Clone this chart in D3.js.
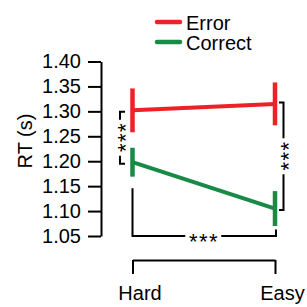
<!DOCTYPE html>
<html>
<head>
  <meta charset="utf-8">
  <style>
    html, body {
      margin: 0;
      padding: 0;
      background: #fff;
      width: 307px;
      height: 307px;
      overflow: hidden;
      font-family: "Liberation Sans", Arial, sans-serif;
    }
    svg { display: block; }
    .axis path, .axis line { stroke: #000; stroke-width: 2px; }
    .axis text { font-size: 20px; fill: #000; font-family: "Liberation Sans", Arial, sans-serif; }
  </style>
</head>
<body>
  <svg width="307" height="307"></svg>

  <script src="https://d3js.org/d3.v7.min.js"></script>
  <script>
    // data
    const conditions = ["Hard", "Easy"];
    const seriesNames = ["Error", "Correct"];
    const seriesColors = ["#ec2227", "#178a44"];
    const errorMeans = [1.302, 1.315];
    const errorSE = [0.044, 0.043];
    const correctMeans = [1.198, 1.105];
    const correctSE = [0.029, 0.035];
    const yTicks = [1.05, 1.10, 1.15, 1.20, 1.25, 1.30, 1.35, 1.40];

    // significance: within Hard, within Easy, and Correct Hard vs Easy
    const sigLabels = ["***", "***", "***"];
    const bottomBracketEnds = [1.146, 1.063]; // where the Hard/Easy arms stop (data units)

    const svg = d3.select("svg");

    const x = d3.scalePoint().domain(conditions).range([132.5, 275]);
    const y = d3.scaleLinear().domain([1.05, 1.40]).range([236, 61.5]);

    const series = [
      { name: seriesNames[0], color: seriesColors[0], means: errorMeans, se: errorSE },
      { name: seriesNames[1], color: seriesColors[1], means: correctMeans, se: correctSE }
    ];

    // y axis
    svg.append("g")
      .attr("class", "axis")
      .attr("transform", "translate(101,0)")
      .call(d3.axisLeft(y).tickValues(yTicks).tickSize(13).tickSizeOuter(0).tickPadding(7).tickFormat(d3.format(".2f")));

    svg.append("text")
      .attr("transform", "translate(32,141) rotate(-90)")
      .attr("text-anchor", "middle")
      .attr("font-size", 20)
      .text("RT (s)");

    // x axis (separate bracket below)
    const xAxis = svg.append("g")
      .attr("class", "axis")
      .attr("transform", "translate(0,260)")
      .call(d3.axisBottom(x).tickSize(14).tickSizeOuter(0).tickPadding(0));
    xAxis.selectAll("text")
      .attr("dy", null)
      .attr("y", 40)
      .attr("dx", 7);

    // lines
    const line = d3.line()
      .x((d, i) => x(conditions[i]))
      .y(d => y(d));

    series.forEach(s => {
      svg.append("path")
        .datum(s.means)
        .attr("d", line)
        .attr("fill", "none")
        .attr("stroke", s.color)
        .attr("stroke-width", 4);

      svg.append("g")
        .selectAll("line")
        .data(s.means)
        .join("line")
        .attr("x1", (d, i) => x(conditions[i]))
        .attr("x2", (d, i) => x(conditions[i]))
        .attr("y1", (d, i) => y(d + s.se[i]))
        .attr("y2", (d, i) => y(d - s.se[i]))
        .attr("stroke", s.color)
        .attr("stroke-width", 4.5);
    });

    // legend
    const legend = svg.append("g").attr("transform", "translate(157,22)");
    series.forEach((s, i) => {
      legend.append("line")
        .attr("x1", 0).attr("x2", 23)
        .attr("y1", i * 20).attr("y2", i * 20)
        .attr("stroke", s.color)
        .attr("stroke-width", 4.5)
        .attr("stroke-linecap", "round");
      legend.append("text")
        .attr("x", 29)
        .attr("y", i * 20 + 7.5)
        .attr("font-size", 20)
        .text(s.name);
    });

    // significance brackets
    const sig = svg.append("g")
      .attr("fill", "none")
      .attr("stroke", "#000")
      .attr("stroke-width", 2);

    const gap = 18;
    function stars(cx, cy, label, vertical) {
      svg.append("text")
        .attr("transform", `translate(${cx},${cy})` + (vertical ? " rotate(-90)" : ""))
        .attr("x", 0.8)
        .attr("y", 12.5)
        .attr("text-anchor", "middle")
        .attr("font-size", 22)
        .attr("letter-spacing", 1.5)
        .text(label);
    }

    // vertical brackets, one per condition
    const vBrackets = [
      { cx: x("Hard") - 12.5, arm: 5, y1: y(errorMeans[0]) + 1.5, y2: y(correctMeans[0]) + 1.5, label: sigLabels[0] },
      { cx: x("Easy") + 8.5, arm: -4.5, y1: y(errorMeans[1]) - 1.5, y2: y(correctMeans[1]) + 1.5, label: sigLabels[1] }
    ];
    vBrackets.forEach(b => {
      const mid = (b.y1 + b.y2) / 2;
      sig.append("path")
        .attr("d", `M${b.cx + b.arm},${b.y1}H${b.cx}V${mid - gap}M${b.cx},${mid + gap}V${b.y2}H${b.cx + b.arm}`);
      stars(b.cx, mid, b.label, true);
    });

    // bottom bracket Correct Hard vs Easy
    const by = y(1.05);
    const bx1 = x("Hard"), bx2 = x("Easy") + 1;
    const bmid = (bx1 + bx2) / 2 - 1;
    sig.append("path")
      .attr("d", `M${bx1},${y(bottomBracketEnds[0])}V${by}H${bmid - gap}M${bmid + gap},${by}H${bx2}V${y(bottomBracketEnds[1])}`);
    stars(bmid, by, sigLabels[2], false);
  </script>
</body>
</html>
